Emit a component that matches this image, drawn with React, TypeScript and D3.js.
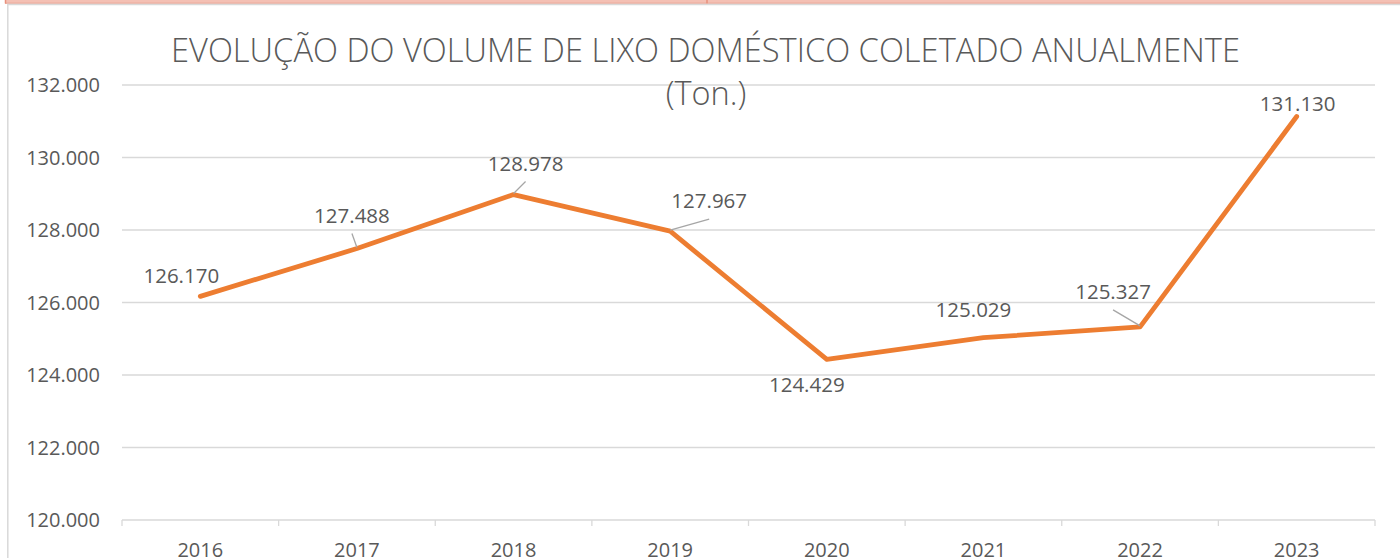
import React from "react";
import * as d3 from "d3";

const years = ["2016", "2017", "2018", "2019", "2020", "2021", "2022", "2023"];
const volumes = [126170, 127488, 128978, 127967, 124429, 125029, 125327, 131130];
const yTicks = [120000, 122000, 124000, 126000, 128000, 130000, 132000];
const titleLine1 = "EVOLUÇÃO DO VOLUME DE LIXO DOMÉSTICO COLETADO ANUALMENTE";
const titleLine2 = "(Ton.)";

// label placement (pixel offsets from point: dx, dy to baseline, leader?)
const labelOffsets: [number, number, boolean][] = [
  [-19, -13, false],
  [-5, -26, true],
  [12, -24, true],
  [39, -23, true],
  [-20, 33, false],
  [-10, -21, false],
  [-27, -28, true],
  [1, -6, false],
];

const W = 1400;
const H = 558;
const M = { left: 122, right: 1375, top: 85, bottom: 520 };

const locale = d3.formatLocale({ decimal: ",", thousands: ".", grouping: [3], currency: ["", ""] });
const fmt = locale.format(",d");

export default function App() {
  const x = d3.scaleBand<string>().domain(years).range([M.left, M.right]);
  const y = d3.scaleLinear().domain([120000, 132000]).range([M.bottom, M.top]);
  const line = d3
    .line<number>()
    .x((_, i) => (x(years[i]) as number) + x.bandwidth() / 2)
    .y((d) => y(d));
  const font = "'Open Sans', 'Segoe UI', sans-serif";
  const textColor = "#595959";
  const boundaries = d3.range(years.length + 1).map((i) => M.left + i * x.bandwidth());

  return (
    <svg width={W} height={H} style={{ position: "absolute", left: 0, top: 0, background: "#fff" }}>
      {/* spreadsheet strip */}
      <rect x={5} y={0} width={W - 5} height={3.5} fill="#f4c0b4" />
      <line x1={5} x2={W} y1={3.2} y2={3.2} stroke="#e8a090" strokeWidth={1} />
      <line x1={5.5} x2={5.5} y1={0} y2={3.5} stroke="#e8907c" strokeWidth={1.5} />
      <line x1={707} x2={707} y1={0} y2={3.5} stroke="#e8907c" strokeWidth={1.5} />
      {/* chart border */}
      <line x1={7} x2={W} y1={4.5} y2={4.5} stroke="#d9d9d9" strokeWidth={1.3} />
      <line x1={7.8} x2={7.8} y1={4} y2={H} stroke="#d9d9d9" strokeWidth={1.5} />

      {/* gridlines */}
      {yTicks.map((t) => (
        <line key={t} x1={M.left} x2={M.right} y1={y(t)} y2={y(t)} stroke="#d9d9d9" strokeWidth={1.3} />
      ))}
      {/* x ticks */}
      {boundaries.map((bx, i) => (
        <line key={i} x1={bx} x2={bx} y1={M.bottom} y2={M.bottom + 6} stroke="#d9d9d9" strokeWidth={1.3} />
      ))}

      {/* y tick labels */}
      {yTicks.map((t) => (
        <text
          key={t}
          x={100}
          y={y(t)}
          dy="0.36em"
          textAnchor="end"
          fontFamily={font}
          fontSize={20}
          fill={textColor}
        >
          {fmt(t)}
        </text>
      ))}
      {/* x labels */}
      {years.map((yr) => (
        <text
          key={yr}
          x={(x(yr) as number) + x.bandwidth() / 2}
          y={557}
          textAnchor="middle"
          fontFamily={font}
          fontSize={20}
          fill={textColor}
        >
          {yr}
        </text>
      ))}

      {/* title */}
      <text
        x={171}
        y={62}
        fontFamily={font}
        fontWeight={300}
        fontSize={32.5}
        fill={textColor}
        textLength={1069}
        lengthAdjust="spacingAndGlyphs"
      >
        {titleLine1}
      </text>
      <text x={706} y={105} textAnchor="middle" fontFamily={font} fontWeight={300} fontSize={32.5} fill={textColor}>
        {titleLine2}
      </text>

      {/* line */}
      <path
        d={line(volumes) || ""}
        fill="none"
        stroke="#ED7D31"
        strokeWidth={4.8}
        strokeLinejoin="round"
        strokeLinecap="round"
      />

      {/* data labels */}
      {volumes.map((v, i) => {
        const px = (x(years[i]) as number) + x.bandwidth() / 2;
        const py = y(v);
        const [dx, dy, leader] = labelOffsets[i];
        const lx = px + dx;
        const ly = py + dy;
        return (
          <g key={i}>
            {leader && (
              <line x1={px} y1={py - 1} x2={lx} y2={ly + 11} stroke="#a6a6a6" strokeWidth={1.3} />
            )}
            <text x={lx} y={ly} textAnchor="middle" fontFamily={font} fontSize={20.5} fill={textColor}>
              {fmt(v)}
            </text>
          </g>
        );
      })}
    </svg>
  );
}
